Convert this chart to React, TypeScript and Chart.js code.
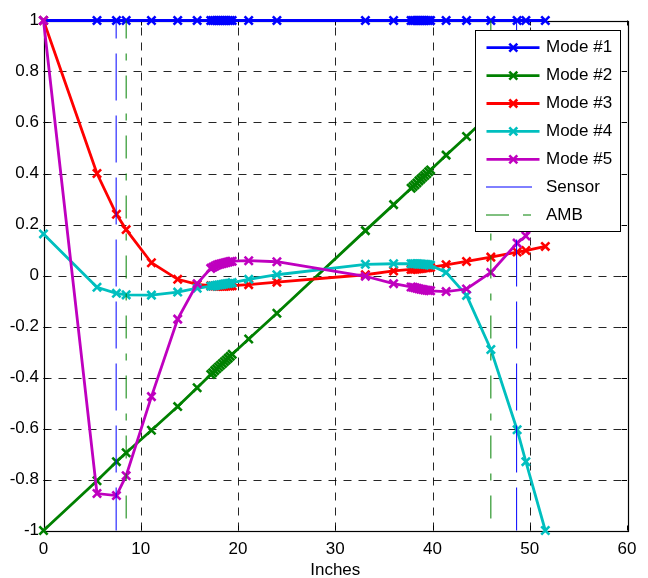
import React, { useEffect, useRef } from 'react';
import { Chart, registerables } from 'chart.js';

Chart.register(...registerables);

// ---------- data ----------
const xInches = [
  0, 5.5, 7.5, 8.5, 11.1, 13.8, 15.8,
  17.2, 17.4, 17.6, 17.8, 18.0, 18.2, 18.4, 18.6, 18.8, 19.0, 19.2, 19.4,
  21.1, 24.0, 33.1, 36.0,
  37.8, 38.0, 38.2, 38.4, 38.6, 38.8, 39.0, 39.2, 39.4, 39.6, 39.8,
  41.4, 43.5, 46.0, 48.7, 49.6, 51.6,
];

const mode1 = [
  1, 1, 1, 1, 1, 1, 1,
  1, 1, 1, 1, 1, 1, 1, 1, 1, 1, 1, 1,
  1, 1, 1, 1,
  1, 1, 1, 1, 1, 1, 1, 1, 1, 1, 1,
  1, 1, 1, 1, 1, 1,
];

const mode2 = [
  -1, -0.805, -0.73, -0.695, -0.607, -0.514, -0.44,
  -0.388, -0.381, -0.373, -0.366, -0.359, -0.352, -0.345, -0.338, -0.331, -0.324, -0.317, -0.309,
  -0.249, -0.148, 0.176, 0.278,
  0.342, 0.349, 0.356, 0.363, 0.371, 0.378, 0.385, 0.392, 0.399, 0.407, 0.414,
  0.472, 0.545, 0.635, 0.73, 0.765, 0.835,
];

const mode3 = [
  1, 0.4, 0.24, 0.18, 0.05, -0.015, -0.035,
  -0.04, -0.041, -0.041, -0.042, -0.042, -0.042, -0.042, -0.042, -0.041, -0.041, -0.041, -0.04,
  -0.036, -0.026, 0.003, 0.018,
  0.024, 0.025, 0.025, 0.026, 0.027, 0.028, 0.029, 0.03, 0.03, 0.031, 0.032,
  0.042, 0.055, 0.072, 0.092, 0.098, 0.114,
];

const mode4 = [
  0.163, -0.046, -0.07, -0.076, -0.077, -0.065, -0.05,
  -0.042, -0.041, -0.04, -0.038, -0.037, -0.036, -0.035, -0.033, -0.032, -0.031, -0.03, -0.028,
  -0.015, 0.003, 0.044, 0.046,
  0.046, 0.046, 0.046, 0.046, 0.045, 0.045, 0.044, 0.044, 0.043, 0.042, 0.04,
  0.012, -0.078, -0.29, -0.605, -0.73, -1.0,
];

const mode5 = [
  1, -0.855, -0.863, -0.785, -0.475, -0.171, -0.032,
  0.028, 0.032, 0.036, 0.04, 0.043, 0.045, 0.047, 0.049, 0.051, 0.053, 0.055, 0.056,
  0.058, 0.054, -0.003, -0.032,
  -0.045, -0.046, -0.048, -0.05, -0.052, -0.054, -0.055, -0.057, -0.058, -0.059, -0.06,
  -0.063, -0.053, 0.012, 0.127, 0.155, 0.35,
];

const sensorX = [7.47, 48.65];
const ambX = [8.5, 46.0];

const seriesLabels = ['Mode #1', 'Mode #2', 'Mode #3', 'Mode #4', 'Mode #5', 'Sensor', 'AMB'];
const xTickLabels = ['0', '10', '20', '30', '40', '50', '60'];
const yTickLabels = ['-1', '-0.8', '-0.6', '-0.4', '-0.2', '0', '0.2', '0.4', '0.6', '0.8', '1'];
const xLabel = 'Inches';

// ---------- styles ----------
const FONT = '"Liberation Sans", Arial, Helvetica, sans-serif';
const FS = 17;
const modeColors = ['#0000ff', '#008000', '#ff0000', '#00bfbf', '#bf00bf'];
const X_MIN = 0, X_MAX = 60, Y_MIN = -1, Y_MAX = 1;

const vline = (xs: number[]) => {
  const out: { x: number; y: number | null }[] = [];
  xs.forEach((sx, i) => {
    if (i > 0) out.push({ x: sx, y: null });
    out.push({ x: sx, y: Y_MAX });
    out.push({ x: sx, y: Y_MIN });
  });
  return out;
};

const framePlugin = {
  id: 'matlabFrame',
  beforeDatasetsDraw(chart: any) {
    const { ctx, chartArea, scales } = chart;
    const { left, right, top, bottom } = chartArea;
    const xs = scales.x;
    const ys = scales.y;
    ctx.save();
    ctx.lineWidth = 1;
    ctx.strokeStyle = 'rgba(0,0,0,0.85)';
    ctx.setLineDash([8, 7]);
    xs.ticks.forEach((t: any) => {
      if (t.value <= X_MIN || t.value >= X_MAX) return;
      const px = Math.round(xs.getPixelForValue(t.value)) + 0.5;
      ctx.beginPath();
      ctx.moveTo(px, bottom);
      ctx.lineTo(px, top);
      ctx.stroke();
    });
    ys.ticks.forEach((t: any) => {
      if (t.value <= Y_MIN + 1e-9 || t.value >= Y_MAX - 1e-9) return;
      const py = Math.round(ys.getPixelForValue(t.value)) + 0.5;
      ctx.beginPath();
      ctx.moveTo(left, py);
      ctx.lineTo(right, py);
      ctx.stroke();
    });
    ctx.setLineDash([]);
    ctx.strokeStyle = '#000';
    const tl = 5;
    xs.ticks.forEach((t: any) => {
      const px = Math.round(xs.getPixelForValue(t.value)) + 0.5;
      ctx.beginPath();
      ctx.moveTo(px, bottom);
      ctx.lineTo(px, bottom - tl);
      ctx.moveTo(px, top);
      ctx.lineTo(px, top + tl);
      ctx.stroke();
    });
    ys.ticks.forEach((t: any) => {
      const py = Math.round(ys.getPixelForValue(t.value)) + 0.5;
      ctx.beginPath();
      ctx.moveTo(left, py);
      ctx.lineTo(left + tl, py);
      ctx.moveTo(right, py);
      ctx.lineTo(right - tl, py);
      ctx.stroke();
    });
    ctx.lineWidth = 1.2;
    ctx.strokeRect(Math.round(left) + 0.5, Math.round(top) + 0.5, Math.round(right - left), Math.round(bottom - top));
    ctx.restore();
  },
  afterDatasetsDraw(chart: any) {
    const { ctx } = chart;
    const bx = 475.5, by = 30.5, bw = 145, bh = 201;
    const rowTop = 47.7, rowStep = 27.9;
    ctx.save();
    ctx.fillStyle = '#ffffff';
    ctx.fillRect(bx, by, bw, bh);
    ctx.strokeStyle = '#000';
    ctx.lineWidth = 1;
    ctx.strokeRect(bx, by, bw, bh);
    ctx.font = `${FS}px ${FONT}`;
    ctx.textBaseline = 'middle';
    ctx.textAlign = 'left';
    chart.data.datasets.forEach((ds: any, i: number) => {
      const cy = rowTop + i * rowStep;
      if (i < 5) {
        ctx.strokeStyle = ds.borderColor;
        ctx.lineWidth = 2.8;
        ctx.setLineDash([]);
        ctx.beginPath();
        ctx.moveTo(486.5, cy);
        ctx.lineTo(539.5, cy);
        ctx.stroke();
        ctx.lineWidth = 2.6;
        const m = 4;
        ctx.beginPath();
        ctx.moveTo(513.3 - m, cy - m);
        ctx.lineTo(513.3 + m, cy + m);
        ctx.moveTo(513.3 - m, cy + m);
        ctx.lineTo(513.3 + m, cy - m);
        ctx.stroke();
      } else {
        const ly = Math.round(cy);
        ctx.strokeStyle = ds.borderColor;
        ctx.lineWidth = 1;
        ctx.setLineDash(i === 6 ? [23, 14, 8, 14] : []);
        ctx.beginPath();
        ctx.moveTo(486, ly);
        ctx.lineTo(532, ly);
        ctx.stroke();
        ctx.setLineDash([]);
      }
      ctx.fillStyle = '#000';
      ctx.fillText(ds.label, 546, cy);
    });
    ctx.restore();
  },
};

export default function App() {
  const canvasRef = useRef<HTMLCanvasElement | null>(null);

  useEffect(() => {
    if (!canvasRef.current) return;
    const modes = [mode1, mode2, mode3, mode4, mode5];
    const modeSets = modes.map((vals, i) => ({
      label: seriesLabels[i],
      data: xInches.map((x, k) => ({ x, y: vals[k] })),
      borderColor: modeColors[i],
      backgroundColor: modeColors[i],
      borderWidth: 2.8,
      pointStyle: 'crossRot',
      pointRadius: 5.8,
      pointBorderWidth: 2.6,
      pointBorderColor: modeColors[i],
      pointBackgroundColor: modeColors[i],
      tension: 0,
      clip: false,
      order: 7 - i,
    }));
    const chart = new Chart(canvasRef.current, {
      type: 'line',
      data: {
        datasets: [
          ...modeSets,
          {
            label: seriesLabels[5],
            data: vline(sensorX),
            borderColor: '#0000ff',
            borderWidth: 1,
            borderDash: [47, 15],
            borderDashOffset: 29,
            pointRadius: 0,
            spanGaps: false,
            clip: false,
            order: 2,
          },
          {
            label: seriesLabels[6],
            data: vline(ambX),
            borderColor: '#008000',
            borderWidth: 1,
            borderDash: [23, 15, 7, 15],
            borderDashOffset: 5,
            pointRadius: 0,
            spanGaps: false,
            clip: false,
            order: 1,
          },
        ] as any,
      },
      options: {
        responsive: false,
        animation: false,
        events: [],
        layout: { padding: { top: 20.5, right: 21, left: 0, bottom: 0 } },
        plugins: {
          legend: { display: false },
          tooltip: { enabled: false },
          title: { display: false },
        },
        scales: {
          x: {
            type: 'linear',
            min: X_MIN,
            max: X_MAX,
            ticks: {
              stepSize: 10,
              padding: 8.5,
              color: '#000',
              font: { family: FONT, size: FS },
              maxRotation: 0,
              callback: (_v: any, i: number) => xTickLabels[i],
            },
            grid: { display: false, drawTicks: false },
            border: { display: false },
            title: {
              display: true,
              text: xLabel,
              color: '#000',
              font: { family: FONT, size: FS },
              padding: { top: 0, bottom: -2.8 },
            },
            afterFit: (s: any) => { s.height = 47.5; },
          },
          y: {
            type: 'linear',
            min: Y_MIN,
            max: Y_MAX,
            ticks: {
              stepSize: 0.2,
              padding: 4.5,
              color: '#000',
              font: { family: FONT, size: FS },
              callback: (_v: any, i: number) => yTickLabels[i],
            },
            grid: { display: false, drawTicks: false },
            border: { display: false },
            afterFit: (s: any) => { s.width = 43.5; },
          },
        },
      } as any,
      plugins: [framePlugin],
    });
    return () => chart.destroy();
  }, []);

  return (
    <div style={{ position: 'absolute', left: 0, top: 0, width: 648, height: 578, background: '#fff' }}>
      <canvas ref={canvasRef} width={648} height={578} style={{ display: 'block' }} />
    </div>
  );
}
